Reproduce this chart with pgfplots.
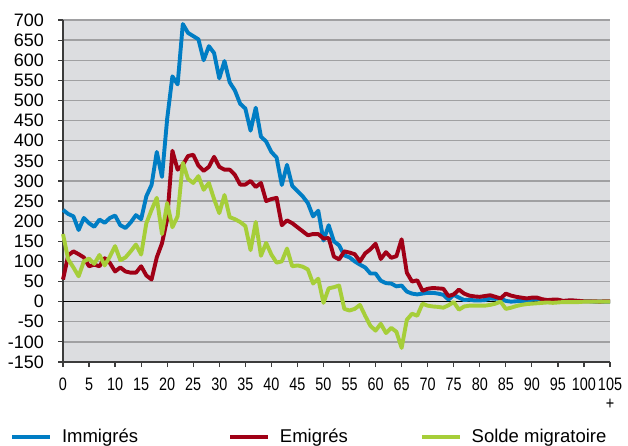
\documentclass[border=0pt]{standalone}
\usepackage{pgfplots}
\pgfplotsset{compat=1.18}
\usepackage{pgfplotstable}
\usepackage{fontspec}
\setmainfont{Liberation Sans}
\definecolor{cblue}{RGB}{0,125,196}
\definecolor{cred}{RGB}{160,0,22}
\definecolor{cgreen}{RGB}{166,206,57}
\definecolor{bgfill}{RGB}{220,221,224}
\definecolor{gridc}{RGB}{160,160,162}
\definecolor{axc}{RGB}{60,60,60}

\pgfplotstableread{
x b r g
0 228 55 168
1 218 115 105
2 212 125 85
3 178 118 63
4 208 110 100
5 195 88 107
6 186 92 94
7 204 88 116
8 196 108 90
9 208 96 112
10 214 75 138
11 190 85 103
12 183 75 110
13 197 72 125
14 215 72 142
15 205 88 117
16 262 65 195
17 290 55 228
18 372 110 258
19 310 145 168
20 455 205 245
21 560 375 185
22 540 328 212
23 690 340 345
24 668 362 305
25 660 365 295
26 652 338 312
27 600 325 278
28 635 335 295
29 618 360 255
30 555 335 220
31 598 328 265
32 545 328 210
33 525 315 205
34 492 291 198
35 480 291 188
36 425 300 128
37 482 285 198
38 410 295 114
39 398 250 146
40 372 255 117
41 358 258 97
42 290 190 100
43 340 202 132
44 288 195 88
45 275 185 90
46 262 175 87
47 245 165 80
48 212 168 45
49 226 168 57
50 152 157 -3
51 190 158 33
52 150 112 36
53 140 105 40
54 115 125 -18
55 110 122 -22
56 100 118 -18
57 92 100 -8
58 85 120 -35
59 70 130 -60
60 70 144 -72
61 52 106 -55
62 46 123 -78
63 45 109 -65
64 38 113 -75
65 40 155 -115
66 25 72 -45
67 20 50 -30
68 18 53 -35
69 20 27 -5
70 22 32 -10
71 22 34 -12
72 20 33 -13
73 17 32 -15
74 5 14 -9
75 17 18 -1
76 10 30 -20
77 4 20 -12
78 5 15 -10
79 3 13 -10
80 3 12 -10
81 4 14 -10
82 8 16 -8
83 7 12 -5
84 8 8 0
85 2 20 -18
86 0 15 -15
87 1 12 -11
88 2 10 -8
89 2 8 -6
90 5 10 -5
91 6 10 -4
92 3 6 -3
93 2 4 -2
94 2 5 -3
95 3 5 -2
96 1 2 -1
97 2 3 -1
98 2 3 -1
99 1 2 -1
100 1 1 0
101 1 1 0
102 0 1 0
103 0 0 0
104 0 1 0
105 0 1 0
}\datatable

\begin{document}
\begin{tikzpicture}
\path[use as bounding box] (0,0) rectangle (628bp,-446bp);
\begin{axis}[
  at={(63bp,-362bp)}, anchor=south west,
  scale only axis, width=547bp, height=342bp,
  xmin=0, xmax=105, ymin=-150, ymax=700,
  axis x line=bottom, axis y line=left,
  axis line style={-, axc, line width=1.2bp},
  axis background/.style={fill=bgfill},
  xtick={0,5,...,105},
  xticklabels={0,5,10,15,20,25,30,35,40,45,50,55,60,65,70,75,80,85,90,95,100,{105\\+}},
  ytick={-150,-100,...,700},
  tick align=outside,
  major tick length=5bp,
  tick style={axc, line width=1.2bp},
  ymajorgrids,
  major grid style={gridc, line width=1.3bp},
  /pgf/number format/assume math mode=true,
  every tick label/.append style={font=\fontsize{18bp}{19bp}\selectfont},
  yticklabel style={inner sep=0pt, xshift=-14bp},
  xticklabel style={inner sep=0pt, yshift=-11bp, xscale=0.8, align=center},
  legend columns=3,
  legend style={draw=none, fill=none, at={(-0.097,-0.219)}, anchor=west,
    font=\fontsize{18.5bp}{19bp}\selectfont, inner sep=0pt,
    /tikz/column 1/.style={column sep=8bp},
    /tikz/column 3/.style={column sep=8bp},
    /tikz/column 5/.style={column sep=8bp},
    /tikz/column 2/.style={column sep=88bp},
    /tikz/column 4/.style={column sep=70bp}},
  legend image code/.code={\draw[#1] (0bp,0bp) -- (38bp,0bp);},
  clip=false,
]
\addplot[black, line width=1.3bp, forget plot] coordinates {(0,0) (105,0)};
\addplot[cblue, line width=3.9bp, line join=round] table[x=x,y=b] {\datatable};
\addlegendentry{Immigrés}
\addplot[cred, line width=3.9bp, line join=round] table[x=x,y=r] {\datatable};
\addlegendentry{Emigrés}
\addplot[cgreen, line width=3.9bp, line join=round] table[x=x,y=g] {\datatable};
\addlegendentry{Solde migratoire}
\end{axis}
\end{tikzpicture}
\end{document}
